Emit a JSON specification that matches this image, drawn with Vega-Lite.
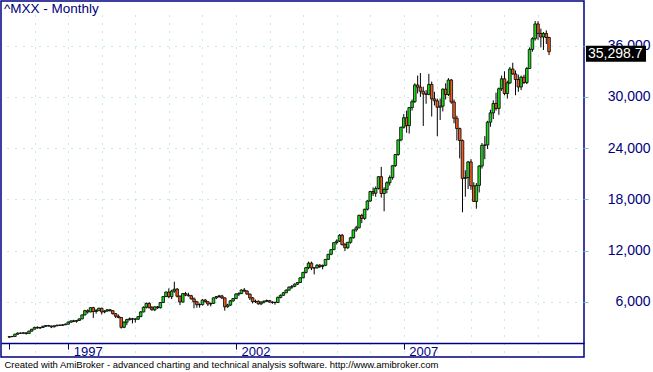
{
  "$schema": "https://vega.github.io/schema/vega-lite/v6.json",
  "width": 583,
  "height": 356,
  "autosize": {"type": "none"},
  "padding": {"left": 1, "top": 1, "right": 69, "bottom": 15},
  "background": "white",
  "title": {"text": "^MXX - Monthly", "anchor": "start", "frame": "group", "offset": -14, "dx": 3, "fontSize": 13.5, "fontWeight": "normal", "font": "Liberation Sans", "color": "#000080"},
  "config": {"view": {"stroke": "#000080", "strokeWidth": 1.5}, "font": "Liberation Sans"},
  "data": {"values": [
    {"d":"1995-04-01","o":1840,"h":1960,"l":1800,"c":1900},
    {"d":"1995-05-01","o":1900,"h":1990,"l":1860,"c":1930},
    {"d":"1995-06-01","o":1930,"h":2230,"l":1900,"c":2190},
    {"d":"1995-07-01","o":2190,"h":2400,"l":2150,"c":2320},
    {"d":"1995-08-01","o":2320,"h":2400,"l":2240,"c":2300},
    {"d":"1995-09-01","o":2300,"h":2420,"l":2260,"c":2350},
    {"d":"1995-10-01","o":2350,"h":2380,"l":2150,"c":2280},
    {"d":"1995-11-01","o":2280,"h":2600,"l":2250,"c":2550},
    {"d":"1995-12-01","o":2550,"h":2800,"l":2500,"c":2780},
    {"d":"1996-01-01","o":2780,"h":3050,"l":2750,"c":3000},
    {"d":"1996-02-01","o":3000,"h":3100,"l":2850,"c":2920},
    {"d":"1996-03-01","o":2920,"h":3030,"l":2800,"c":2980},
    {"d":"1996-04-01","o":2980,"h":3180,"l":2950,"c":3120},
    {"d":"1996-05-01","o":3120,"h":3250,"l":3050,"c":3200},
    {"d":"1996-06-01","o":3200,"h":3280,"l":3100,"c":3150},
    {"d":"1996-07-01","o":3150,"h":3200,"l":2900,"c":3050},
    {"d":"1996-08-01","o":3050,"h":3220,"l":3000,"c":3180},
    {"d":"1996-09-01","o":3180,"h":3300,"l":3120,"c":3250},
    {"d":"1996-10-01","o":3250,"h":3320,"l":3150,"c":3230},
    {"d":"1996-11-01","o":3230,"h":3350,"l":3180,"c":3300},
    {"d":"1996-12-01","o":3300,"h":3450,"l":3250,"c":3360},
    {"d":"1997-01-01","o":3360,"h":3700,"l":3330,"c":3600},
    {"d":"1997-02-01","o":3600,"h":3800,"l":3550,"c":3750},
    {"d":"1997-03-01","o":3750,"h":3880,"l":3600,"c":3700},
    {"d":"1997-04-01","o":3700,"h":3850,"l":3550,"c":3800},
    {"d":"1997-05-01","o":3800,"h":4050,"l":3750,"c":3980},
    {"d":"1997-06-01","o":3980,"h":4500,"l":3950,"c":4450},
    {"d":"1997-07-01","o":4450,"h":5050,"l":4400,"c":4950},
    {"d":"1997-08-01","o":4950,"h":5100,"l":4600,"c":4800},
    {"d":"1997-09-01","o":4800,"h":5350,"l":4750,"c":5300},
    {"d":"1997-10-01","o":5300,"h":5400,"l":4100,"c":4850},
    {"d":"1997-11-01","o":4850,"h":5150,"l":4600,"c":4950},
    {"d":"1997-12-01","o":4950,"h":5300,"l":4900,"c":5230},
    {"d":"1998-01-01","o":5230,"h":5300,"l":4500,"c":4800},
    {"d":"1998-02-01","o":4800,"h":5000,"l":4650,"c":4900},
    {"d":"1998-03-01","o":4900,"h":5150,"l":4850,"c":5050},
    {"d":"1998-04-01","o":5050,"h":5150,"l":4850,"c":4950},
    {"d":"1998-05-01","o":4950,"h":5000,"l":4500,"c":4600},
    {"d":"1998-06-01","o":4600,"h":4650,"l":4100,"c":4300},
    {"d":"1998-07-01","o":4300,"h":4500,"l":4050,"c":4150},
    {"d":"1998-08-01","o":4150,"h":4200,"l":2850,"c":3000},
    {"d":"1998-09-01","o":3000,"h":3700,"l":2900,"c":3600},
    {"d":"1998-10-01","o":3600,"h":4000,"l":3250,"c":3900},
    {"d":"1998-11-01","o":3900,"h":4150,"l":3800,"c":4000},
    {"d":"1998-12-01","o":4000,"h":4100,"l":3450,"c":3960},
    {"d":"1999-01-01","o":3960,"h":4050,"l":3550,"c":3950},
    {"d":"1999-02-01","o":3950,"h":4300,"l":3850,"c":4250},
    {"d":"1999-03-01","o":4250,"h":4900,"l":4200,"c":4800},
    {"d":"1999-04-01","o":4800,"h":5450,"l":4750,"c":5350},
    {"d":"1999-05-01","o":5350,"h":5900,"l":5200,"c":5800},
    {"d":"1999-06-01","o":5800,"h":5950,"l":5200,"c":5300},
    {"d":"1999-07-01","o":5300,"h":5500,"l":4950,"c":5050},
    {"d":"1999-08-01","o":5050,"h":5450,"l":4900,"c":5400},
    {"d":"1999-09-01","o":5400,"h":5500,"l":5150,"c":5300},
    {"d":"1999-10-01","o":5300,"h":5950,"l":5200,"c":5900},
    {"d":"1999-11-01","o":5900,"h":6650,"l":5850,"c":6600},
    {"d":"1999-12-01","o":6600,"h":7200,"l":6550,"c":7130},
    {"d":"2000-01-01","o":7130,"h":7560,"l":6400,"c":6590},
    {"d":"2000-02-01","o":6590,"h":7400,"l":6300,"c":7250},
    {"d":"2000-03-01","o":7250,"h":8340,"l":7050,"c":7470},
    {"d":"2000-04-01","o":7470,"h":7600,"l":6500,"c":6640},
    {"d":"2000-05-01","o":6640,"h":6750,"l":5600,"c":5960},
    {"d":"2000-06-01","o":5960,"h":7000,"l":5900,"c":6950},
    {"d":"2000-07-01","o":6950,"h":7150,"l":6650,"c":6780},
    {"d":"2000-08-01","o":6780,"h":7050,"l":6600,"c":6700},
    {"d":"2000-09-01","o":6700,"h":6800,"l":6250,"c":6330},
    {"d":"2000-10-01","o":6330,"h":6500,"l":5230,"c":6000},
    {"d":"2000-11-01","o":6000,"h":6100,"l":5300,"c":5650},
    {"d":"2000-12-01","o":5650,"h":5800,"l":5300,"c":5660},
    {"d":"2001-01-01","o":5660,"h":6300,"l":5550,"c":6200},
    {"d":"2001-02-01","o":6200,"h":6300,"l":5900,"c":6000},
    {"d":"2001-03-01","o":6000,"h":6050,"l":5500,"c":5730},
    {"d":"2001-04-01","o":5730,"h":5900,"l":5450,"c":5800},
    {"d":"2001-05-01","o":5800,"h":6500,"l":5750,"c":6450},
    {"d":"2001-06-01","o":6450,"h":6650,"l":6300,"c":6600},
    {"d":"2001-07-01","o":6600,"h":6800,"l":6450,"c":6680},
    {"d":"2001-08-01","o":6680,"h":6800,"l":6300,"c":6450},
    {"d":"2001-09-01","o":6450,"h":6500,"l":4950,"c":5400},
    {"d":"2001-10-01","o":5400,"h":5750,"l":5300,"c":5600},
    {"d":"2001-11-01","o":5600,"h":6200,"l":5500,"c":6100},
    {"d":"2001-12-01","o":6100,"h":6450,"l":6000,"c":6370},
    {"d":"2002-01-01","o":6370,"h":7000,"l":6300,"c":6900},
    {"d":"2002-02-01","o":6900,"h":7100,"l":6650,"c":6950},
    {"d":"2002-03-01","o":6950,"h":7450,"l":6900,"c":7370},
    {"d":"2002-04-01","o":7370,"h":7600,"l":7150,"c":7250},
    {"d":"2002-05-01","o":7250,"h":7350,"l":6800,"c":6900},
    {"d":"2002-06-01","o":6900,"h":6950,"l":6200,"c":6450},
    {"d":"2002-07-01","o":6450,"h":6550,"l":5800,"c":6000},
    {"d":"2002-08-01","o":6000,"h":6250,"l":5850,"c":6050},
    {"d":"2002-09-01","o":6050,"h":6150,"l":5650,"c":5750},
    {"d":"2002-10-01","o":5750,"h":6050,"l":5600,"c":5950},
    {"d":"2002-11-01","o":5950,"h":6150,"l":5800,"c":6050},
    {"d":"2002-12-01","o":6050,"h":6250,"l":5950,"c":6130},
    {"d":"2003-01-01","o":6130,"h":6200,"l":5900,"c":5950},
    {"d":"2003-02-01","o":5950,"h":6050,"l":5750,"c":5920},
    {"d":"2003-03-01","o":5920,"h":6000,"l":5650,"c":5900},
    {"d":"2003-04-01","o":5900,"h":6600,"l":5880,"c":6500},
    {"d":"2003-05-01","o":6500,"h":6850,"l":6400,"c":6750},
    {"d":"2003-06-01","o":6750,"h":7150,"l":6700,"c":7050},
    {"d":"2003-07-01","o":7050,"h":7450,"l":7000,"c":7350},
    {"d":"2003-08-01","o":7350,"h":7800,"l":7300,"c":7700},
    {"d":"2003-09-01","o":7700,"h":7950,"l":7500,"c":7800},
    {"d":"2003-10-01","o":7800,"h":8150,"l":7700,"c":8050},
    {"d":"2003-11-01","o":8050,"h":8300,"l":7950,"c":8250},
    {"d":"2003-12-01","o":8250,"h":8850,"l":8200,"c":8795},
    {"d":"2004-01-01","o":8795,"h":9500,"l":8750,"c":9430},
    {"d":"2004-02-01","o":9430,"h":10050,"l":9300,"c":9990},
    {"d":"2004-03-01","o":9990,"h":10700,"l":9800,"c":10520},
    {"d":"2004-04-01","o":10520,"h":10700,"l":9700,"c":9950},
    {"d":"2004-05-01","o":9950,"h":10050,"l":9200,"c":9960},
    {"d":"2004-06-01","o":9960,"h":10400,"l":9900,"c":10280},
    {"d":"2004-07-01","o":10280,"h":10400,"l":9950,"c":10120},
    {"d":"2004-08-01","o":10120,"h":10350,"l":9800,"c":10260},
    {"d":"2004-09-01","o":10260,"h":11000,"l":10200,"c":10960},
    {"d":"2004-10-01","o":10960,"h":11600,"l":10900,"c":11560},
    {"d":"2004-11-01","o":11560,"h":12150,"l":11450,"c":12100},
    {"d":"2004-12-01","o":12100,"h":12950,"l":12050,"c":12920},
    {"d":"2005-01-01","o":12920,"h":13300,"l":12700,"c":13100},
    {"d":"2005-02-01","o":13100,"h":13900,"l":13000,"c":13790},
    {"d":"2005-03-01","o":13790,"h":13950,"l":12600,"c":12680},
    {"d":"2005-04-01","o":12680,"h":12900,"l":11950,"c":12320},
    {"d":"2005-05-01","o":12320,"h":13000,"l":12200,"c":12960},
    {"d":"2005-06-01","o":12960,"h":13600,"l":12800,"c":13490},
    {"d":"2005-07-01","o":13490,"h":14450,"l":13400,"c":14410},
    {"d":"2005-08-01","o":14410,"h":14900,"l":14200,"c":14660},
    {"d":"2005-09-01","o":14660,"h":16200,"l":14600,"c":16120},
    {"d":"2005-10-01","o":16120,"h":16300,"l":15200,"c":15760},
    {"d":"2005-11-01","o":15760,"h":16900,"l":15600,"c":16830},
    {"d":"2005-12-01","o":16830,"h":17900,"l":16700,"c":17800},
    {"d":"2006-01-01","o":17800,"h":19000,"l":17700,"c":18910},
    {"d":"2006-02-01","o":18910,"h":19400,"l":18400,"c":18710},
    {"d":"2006-03-01","o":18710,"h":19500,"l":18300,"c":19270},
    {"d":"2006-04-01","o":19270,"h":20700,"l":19150,"c":20650},
    {"d":"2006-05-01","o":20650,"h":21800,"l":18200,"c":18680},
    {"d":"2006-06-01","o":18680,"h":19400,"l":16600,"c":19150},
    {"d":"2006-07-01","o":19150,"h":20100,"l":18700,"c":19940},
    {"d":"2006-08-01","o":19940,"h":20800,"l":19600,"c":20550},
    {"d":"2006-09-01","o":20550,"h":22000,"l":20300,"c":21940},
    {"d":"2006-10-01","o":21940,"h":23300,"l":21800,"c":23250},
    {"d":"2006-11-01","o":23250,"h":25000,"l":23100,"c":24960},
    {"d":"2006-12-01","o":24960,"h":26500,"l":24800,"c":26450},
    {"d":"2007-01-01","o":26450,"h":28000,"l":26300,"c":27560},
    {"d":"2007-02-01","o":27560,"h":28400,"l":25800,"c":26640},
    {"d":"2007-03-01","o":26640,"h":28800,"l":25700,"c":28750},
    {"d":"2007-04-01","o":28750,"h":29700,"l":28400,"c":29440},
    {"d":"2007-05-01","o":29440,"h":31600,"l":29300,"c":31400},
    {"d":"2007-06-01","o":31400,"h":32500,"l":30400,"c":31150},
    {"d":"2007-07-01","o":31150,"h":32800,"l":30000,"c":30660},
    {"d":"2007-08-01","o":30660,"h":31200,"l":26600,"c":30350},
    {"d":"2007-09-01","o":30350,"h":30800,"l":29200,"c":30300},
    {"d":"2007-10-01","o":30300,"h":32700,"l":30200,"c":31460},
    {"d":"2007-11-01","o":31460,"h":31800,"l":27700,"c":29770},
    {"d":"2007-12-01","o":29770,"h":30600,"l":29000,"c":29540},
    {"d":"2008-01-01","o":29540,"h":29800,"l":25400,"c":28790},
    {"d":"2008-02-01","o":28790,"h":29800,"l":27300,"c":28920},
    {"d":"2008-03-01","o":28920,"h":31000,"l":28300,"c":30910},
    {"d":"2008-04-01","o":30910,"h":31600,"l":29700,"c":30280},
    {"d":"2008-05-01","o":30280,"h":32200,"l":30100,"c":31980},
    {"d":"2008-06-01","o":31980,"h":32100,"l":29200,"c":29400},
    {"d":"2008-07-01","o":29400,"h":29700,"l":26900,"c":27500},
    {"d":"2008-08-01","o":27500,"h":27800,"l":24900,"c":26290},
    {"d":"2008-09-01","o":26290,"h":26400,"l":22800,"c":24890},
    {"d":"2008-10-01","o":24890,"h":25000,"l":16480,"c":20450},
    {"d":"2008-11-01","o":20450,"h":21400,"l":18300,"c":20540},
    {"d":"2008-12-01","o":20540,"h":22500,"l":19200,"c":22380},
    {"d":"2009-01-01","o":22380,"h":22700,"l":19100,"c":19570},
    {"d":"2009-02-01","o":19570,"h":20000,"l":17700,"c":17750},
    {"d":"2009-03-01","o":17750,"h":19900,"l":16900,"c":19630},
    {"d":"2009-04-01","o":19630,"h":22000,"l":18800,"c":21900},
    {"d":"2009-05-01","o":21900,"h":24600,"l":21600,"c":24330},
    {"d":"2009-06-01","o":24330,"h":25400,"l":22700,"c":24370},
    {"d":"2009-07-01","o":24370,"h":27200,"l":23900,"c":27040},
    {"d":"2009-08-01","o":27040,"h":28500,"l":26500,"c":28130},
    {"d":"2009-09-01","o":28130,"h":29600,"l":27400,"c":29230},
    {"d":"2009-10-01","o":29230,"h":30500,"l":28400,"c":28650},
    {"d":"2009-11-01","o":28650,"h":31100,"l":27900,"c":30960},
    {"d":"2009-12-01","o":30960,"h":32500,"l":30700,"c":32120},
    {"d":"2010-01-01","o":32120,"h":33000,"l":30200,"c":30390},
    {"d":"2010-02-01","o":30390,"h":31900,"l":29800,"c":31640},
    {"d":"2010-03-01","o":31640,"h":33500,"l":31500,"c":33270},
    {"d":"2010-04-01","o":33270,"h":34000,"l":32600,"c":32690},
    {"d":"2010-05-01","o":32690,"h":33100,"l":30200,"c":32040},
    {"d":"2010-06-01","o":32040,"h":32600,"l":30600,"c":31160},
    {"d":"2010-07-01","o":31160,"h":32500,"l":30800,"c":32310},
    {"d":"2010-08-01","o":32310,"h":32600,"l":31500,"c":31680},
    {"d":"2010-09-01","o":31680,"h":33500,"l":31500,"c":33330},
    {"d":"2010-10-01","o":33330,"h":35800,"l":33300,"c":35570},
    {"d":"2010-11-01","o":35570,"h":37000,"l":35300,"c":36820},
    {"d":"2010-12-01","o":36820,"h":38900,"l":36600,"c":38550},
    {"d":"2011-01-01","o":38550,"h":38876,"l":36700,"c":37440},
    {"d":"2011-02-01","o":37440,"h":38000,"l":35800,"c":37020},
    {"d":"2011-03-01","o":37020,"h":37600,"l":35500,"c":37440},
    {"d":"2011-04-01","o":37440,"h":37800,"l":36200,"c":36960},
    {"d":"2011-05-01","o":36960,"h":37050,"l":34900,"c":35298.7}
  ]},
  "layer": [
    {
      "mark": {"type": "rule", "color": "black", "strokeWidth": 1},
      "encoding": {
        "x": {"field": "d", "type": "temporal",
          "scale": {"domain": [{"year": 1995, "month": 2, "date": 24}, {"year": 2012, "month": 3, "date": 22}]},
          "axis": {"orient": "bottom", "grid": true, "gridDash": [1, 7], "gridColor": "#80d8d8", "gridWidth": 1, "gridOpacity": 1,
            "values": [{"year":1996,"month":1,"date":1},{"year":1997,"month":1,"date":1},{"year":1998,"month":1,"date":1},{"year":1999,"month":1,"date":1},{"year":2000,"month":1,"date":1},{"year":2001,"month":1,"date":1},{"year":2002,"month":1,"date":1},{"year":2003,"month":1,"date":1},{"year":2004,"month":1,"date":1},{"year":2005,"month":1,"date":1},{"year":2006,"month":1,"date":1},{"year":2007,"month":1,"date":1},{"year":2008,"month":1,"date":1},{"year":2009,"month":1,"date":1},{"year":2010,"month":1,"date":1},{"year":2011,"month":1,"date":1}],
            "ticks": false, "labels": false, "domain": false, "title": null}},
        "y": {"field": "l", "type": "quantitative",
          "scale": {"domain": [1160, 41240], "range": [342, 0], "zero": false, "nice": false},
          "axis": {"orient": "right", "values": [6000, 12000, 18000, 24000, 30000, 36000], "format": ",.0f", "labelExpr": "format(datum.value, ',.0f')", "title": null,
            "grid": true, "gridDash": [1, 7], "gridColor": "#80d8d8", "gridOpacity": 1,
            "domain": false, "ticks": true, "tickSize": 4, "tickColor": "#66ccdd",
            "labels": true, "labelAlign": "right", "labelBaseline": "middle", "labelPadding": 62, "labelFont": "Liberation Sans", "labelFontSize": 14, "labelColor": "#000080", "labelBound": false, "labelOverlap": false}},
        "y2": {"field": "h"}
      }
    },
    {
      "mark": {"type": "bar", "width": 2.6, "stroke": "black", "strokeWidth": 0.8},
      "encoding": {
        "x": {"field": "d", "type": "temporal",
          "axis": {"orient": "bottom", "offset": -14, "grid": false,
            "values": [{"year":1995,"month":4,"date":1},{"year":1997,"month":1,"date":1},{"year":2002,"month":1,"date":1},{"year":2007,"month":1,"date":1}],
            "labelExpr": "year(datum.value) < 1996 ? '' : timeFormat(datum.value, '%Y')",
            "domain": true, "domainColor": "#000080", "domainWidth": 1.5,
            "tickSize": 6, "tickColor": "#000080", "tickWidth": 1,
            "labelAlign": "left", "labelBaseline": "alphabetic", "labelPadding": 6, "labelOffset": 5, "labelFont": "Liberation Sans", "labelFontSize": 13, "labelColor": "#000080", "labelFlush": false, "labelOverlap": false, "labelBound": false,
            "title": "Created with AmiBroker - advanced charting and technical analysis software. http://www.amibroker.com",
            "titleX": 3, "titleY": 24, "titleAlign": "left", "titleBaseline": "alphabetic", "titleFont": "Liberation Sans", "titleFontSize": 9.5, "titleFontWeight": "normal", "titleColor": "black"}},
        "y": {"field": "o", "type": "quantitative"},
        "y2": {"field": "c"},
        "fill": {"condition": {"test": "datum.c >= datum.o", "value": "#1ed81e"}, "value": "#f25a22"}
      }
    },
    {
      "transform": [{"filter": "datum.c == 35298.7"}],
      "mark": {"type": "point", "shape": "M-1,-0.2667L1,-0.2667L1,0.2667L-1,0.2667Z", "size": 3600, "filled": true, "color": "black", "opacity": 1, "yOffset": 2, "x": {"expr": "width + 32"}},
      "encoding": {"y": {"field": "c", "type": "quantitative"}}
    },
    {
      "transform": [{"filter": "datum.c == 35298.7"}],
      "mark": {"type": "text", "align": "left", "baseline": "middle", "color": "white", "font": "Liberation Sans", "fontSize": 14, "yOffset": 2, "x": {"expr": "width + 4"}},
      "encoding": {
        "y": {"field": "c", "type": "quantitative"},
        "text": {"field": "c", "type": "quantitative", "format": ",.1f"}
      }
    }
  ],
  "resolve": {"axis": {"x": "independent"}}
}
